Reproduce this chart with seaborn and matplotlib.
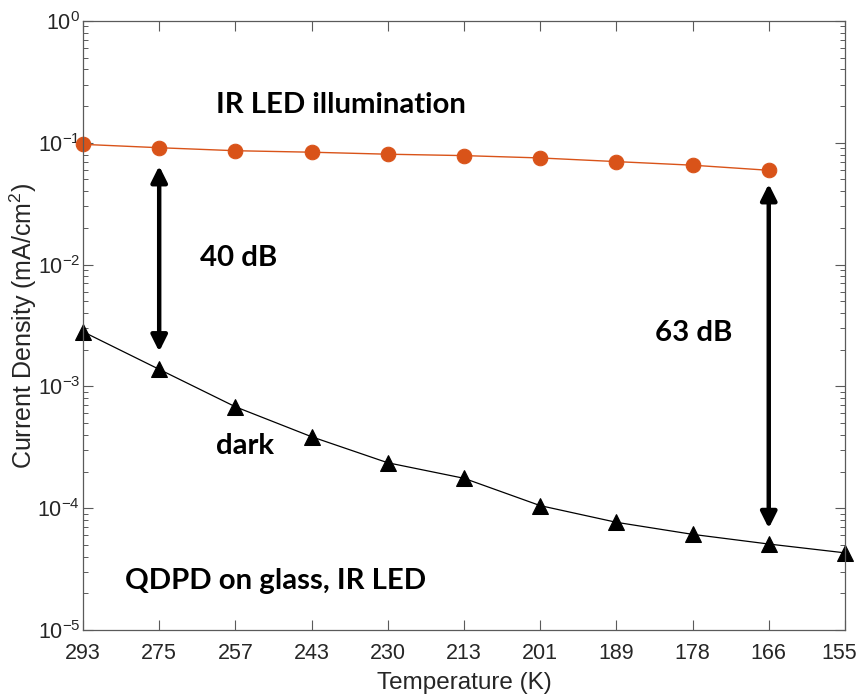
import numpy as np
import pandas as pd
import seaborn as sns
import matplotlib
matplotlib.use("Agg")
import matplotlib.pyplot as plt
import matplotlib.transforms as mtransforms
from matplotlib.ticker import LogLocator, FixedLocator, NullFormatter

# Temperatures (K), measured from warm to cold
temperatures = [293, 275, 257, 243, 230, 213, 201, 189, 178, 166, 155]

# Current density under IR LED illumination (mA/cm^2); no point at 155 K
illuminated = [0.097, 0.091, 0.086, 0.0836, 0.0805, 0.0784, 0.075, 0.070, 0.0654, 0.0594, np.nan]

# Dark current density (mA/cm^2)
dark = [0.00281, 0.00138, 6.8e-4, 3.86e-4, 2.36e-4, 1.76e-4, 1.05e-4, 7.66e-5, 6.1e-5, 5.08e-5, 4.3e-5]

# Rejection ratios marked on the plot
ratio_labels = ["40 dB", "63 dB"]
arrow_temps = [275, 166]
arrow_spans = [(0.0645, 0.00193), (0.0459, 6.84e-5)]

sns.set_theme(style="ticks")
plt.rcParams["font.family"] = ["Liberation Sans", "DejaVu Sans"]
plt.rcParams["mathtext.fontset"] = "custom"
plt.rcParams["mathtext.rm"] = "Liberation Sans"
plt.rcParams["mathtext.it"] = "Liberation Sans"
plt.rcParams["axes.unicode_minus"] = False

pos = list(range(len(temperatures)))
df_ill = pd.DataFrame({"pos": pos, "J": illuminated}).dropna()
df_dark = pd.DataFrame({"pos": pos, "J": dark})

fig = plt.figure(figsize=(8.6, 6.97), dpi=100)
ax = fig.add_axes([0.0965, 0.0961, 0.8860, 0.8739])

orange = "#D95319"
sns.lineplot(data=df_ill, x="pos", y="J", ax=ax, color=orange, lw=1.0,
             marker="o", markersize=10.5, markeredgecolor=orange, markerfacecolor=orange)
sns.lineplot(data=df_dark, x="pos", y="J", ax=ax, color="black", lw=0.9,
             marker="^", markersize=11, markeredgecolor="black", markerfacecolor="black")
for ln in ax.get_lines():
    ln.set_clip_on(False)

ax.set_yscale("log")
ax.set_ylim(1e-5, 1e0)
ax.set_xlim(pos[0], pos[-1])

ax.xaxis.set_major_locator(FixedLocator(pos))
ax.set_xticklabels([str(t) for t in temperatures])
ax.yaxis.set_major_locator(LogLocator(base=10, numticks=10))
ax.yaxis.set_minor_locator(LogLocator(base=10, subs=np.arange(2, 10), numticks=20))
ax.yaxis.set_minor_formatter(NullFormatter())

text_col = "#262626"
for s in ax.spines.values():
    s.set_visible(True)
    s.set_color("#5a5a5a")
    s.set_linewidth(0.9)
ax.tick_params(axis="both", which="major", direction="in", length=7, width=0.8,
               color="#5a5a5a", top=True, right=True, labelsize=15.5, labelcolor=text_col)
ax.tick_params(axis="x", which="major", pad=9)
ax.tick_params(axis="y", which="major", pad=2)
ax.tick_params(axis="y", which="minor", direction="in", length=3.5, width=0.7,
               color="#5a5a5a", left=True, right=True)

# keep the last temperature label inside the figure edge
last = ax.get_xticklabels()[-1]
last.set_transform(last.get_transform() + mtransforms.ScaledTranslation(-4 / 72, 0, fig.dpi_scale_trans))

ax.set_xlabel("Temperature (K)", fontsize=17.5, color=text_col, labelpad=6)
ax.set_ylabel("Current Density (mA/cm$^2$)", fontsize=18, color=text_col)
ax.yaxis.set_label_coords(-0.058, 0.5)

bold = dict(family=["Lato", "DejaVu Sans"], fontweight="bold", color="black", fontsize=21.2)
ax.text(1.75, 0.176, "IR LED illumination", ha="left", va="baseline", **bold)
ax.text(1.54, 0.00974, ratio_labels[0], ha="left", va="baseline", **bold)
ax.text(7.51, 0.00237, ratio_labels[1], ha="left", va="baseline", **bold)
ax.text(1.75, 2.77e-4, "dark", ha="left", va="baseline", **bold)
ax.text(0.55, 2.16e-5, "QDPD on glass, IR LED", ha="left", va="baseline", **bold)

for t, (top, bot) in zip(arrow_temps, arrow_spans):
    xp = temperatures.index(t)
    ax.annotate("", xy=(xp, top), xytext=(xp, bot),
                arrowprops=dict(arrowstyle="<|-|>", color="black", lw=3.2,
                                mutation_scale=24, shrinkA=0, shrinkB=0))

fig.savefig("out.png", dpi=100)
